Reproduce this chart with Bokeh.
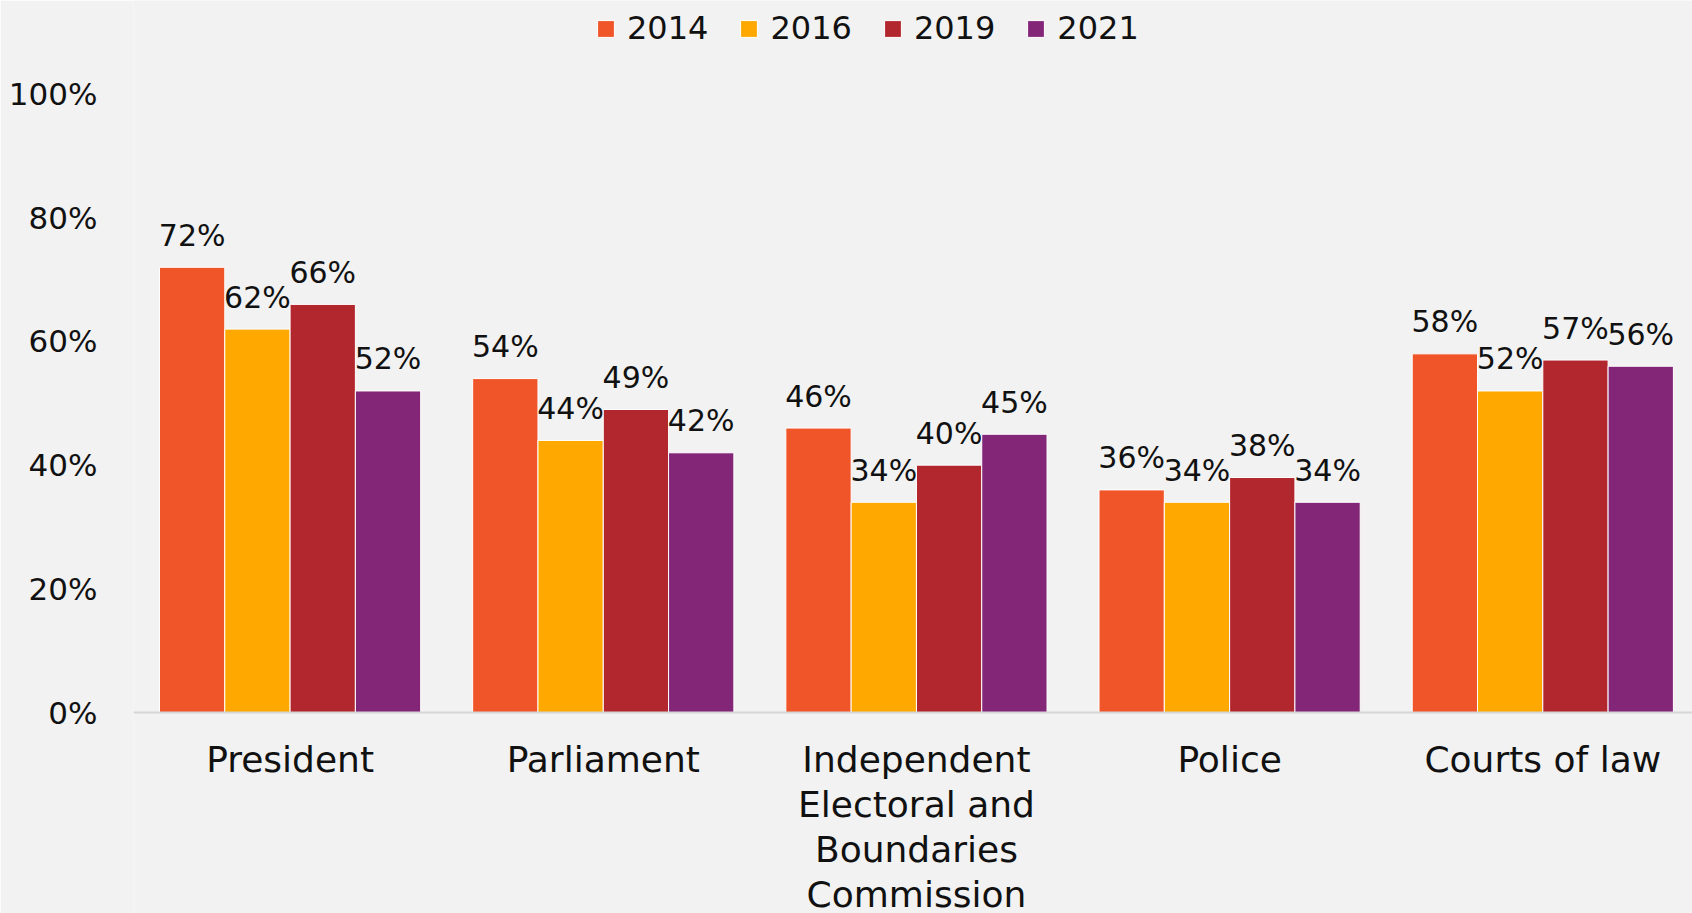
from bokeh.plotting import figure
from bokeh.models import Range1d, FixedTicker, PrintfTickFormatter, Legend, LegendItem
from bokeh.core.properties import value
from bokeh.embed import file_html
from bokeh.resources import INLINE

categories = ["President", "Parliament",
              "Independent\nElectoral and\nBoundaries\nCommission",
              "Police", "Courts of law"]
years = ["2014", "2016", "2019", "2021"]
v2014 = [72, 54, 46, 36, 58]
v2016 = [62, 44, 34, 34, 52]
v2019 = [66, 49, 40, 38, 57]
v2021 = [52, 42, 45, 34, 56]
series = [v2014, v2016, v2019, v2021]
colors = ["#F0552A", "#FFA800", "#B2272E", "#832678"]
y_ticks = [0, 20, 40, 60, 80, 100]

FONT = "DejaVu Sans"
BG = "#f2f2f2"

p = figure(width=1692, height=913, output_backend="svg", toolbar_location=None,
           x_range=Range1d(-0.5, 4.478), y_range=Range1d(-32.5, 115.14),
           min_border_left=133, min_border_right=0, min_border_top=0,
           min_border_bottom=0)
p.background_fill_color = BG
p.border_fill_color = BG
p.outline_line_color = None
p.xgrid.visible = False
p.ygrid.visible = False

w = 0.2085
items = []
for j, (vals, col, yr) in enumerate(zip(series, colors, years)):
    xs = [i + (j - 1.5) * w for i in range(len(categories))]
    r = p.vbar(x=xs, top=vals, bottom=0, width=w, fill_color=col,
               line_color="white", line_width=1)
    items.append(LegendItem(label=yr, renderers=[r]))
    p.text(x=xs, y=vals, text=[f"{v}%" for v in vals], text_align="center",
           text_baseline="alphabetic", y_offset=-32,
           text_font=value(FONT), text_font_size="30px", text_color="#111111")

legend = Legend(items=items, orientation="horizontal", location=(462, 866),
                border_line_alpha=0, background_fill_alpha=0, padding=0, margin=0,
                spacing=30, glyph_width=21, glyph_height=21, label_standoff=11,
                label_text_font=FONT, label_text_font_size="32px",
                label_text_color="#111111")
p.add_layout(legend)

xa = p.xaxis[0]
xa.fixed_location = 0
xa.ticker = FixedTicker(ticks=list(range(len(categories))))
xa.major_label_overrides = {i: c for i, c in enumerate(categories)}
xa.major_label_text_font = FONT
xa.major_label_text_font_size = "36px"
xa.major_label_text_color = "#111111"
xa.major_label_text_line_height = 1.10
xa.major_label_standoff = 26
xa.major_tick_out = 0
xa.major_tick_in = 0
xa.axis_line_color = "#d6d6d6"
xa.axis_line_width = 2
xa.major_tick_line_color = None
xa.minor_tick_line_color = None

ya = p.yaxis[0]
ya.ticker = FixedTicker(ticks=y_ticks)
ya.formatter = PrintfTickFormatter(format="%d%%")
ya.major_label_text_font = FONT
ya.major_label_text_font_size = "31px"
ya.major_label_text_color = "#111111"
ya.major_label_standoff = 36
ya.major_tick_out = 0
ya.major_tick_in = 0
ya.axis_line_color = None
ya.major_tick_line_color = None
ya.minor_tick_line_color = None

open("out.html", "w").write(file_html(p, INLINE))
